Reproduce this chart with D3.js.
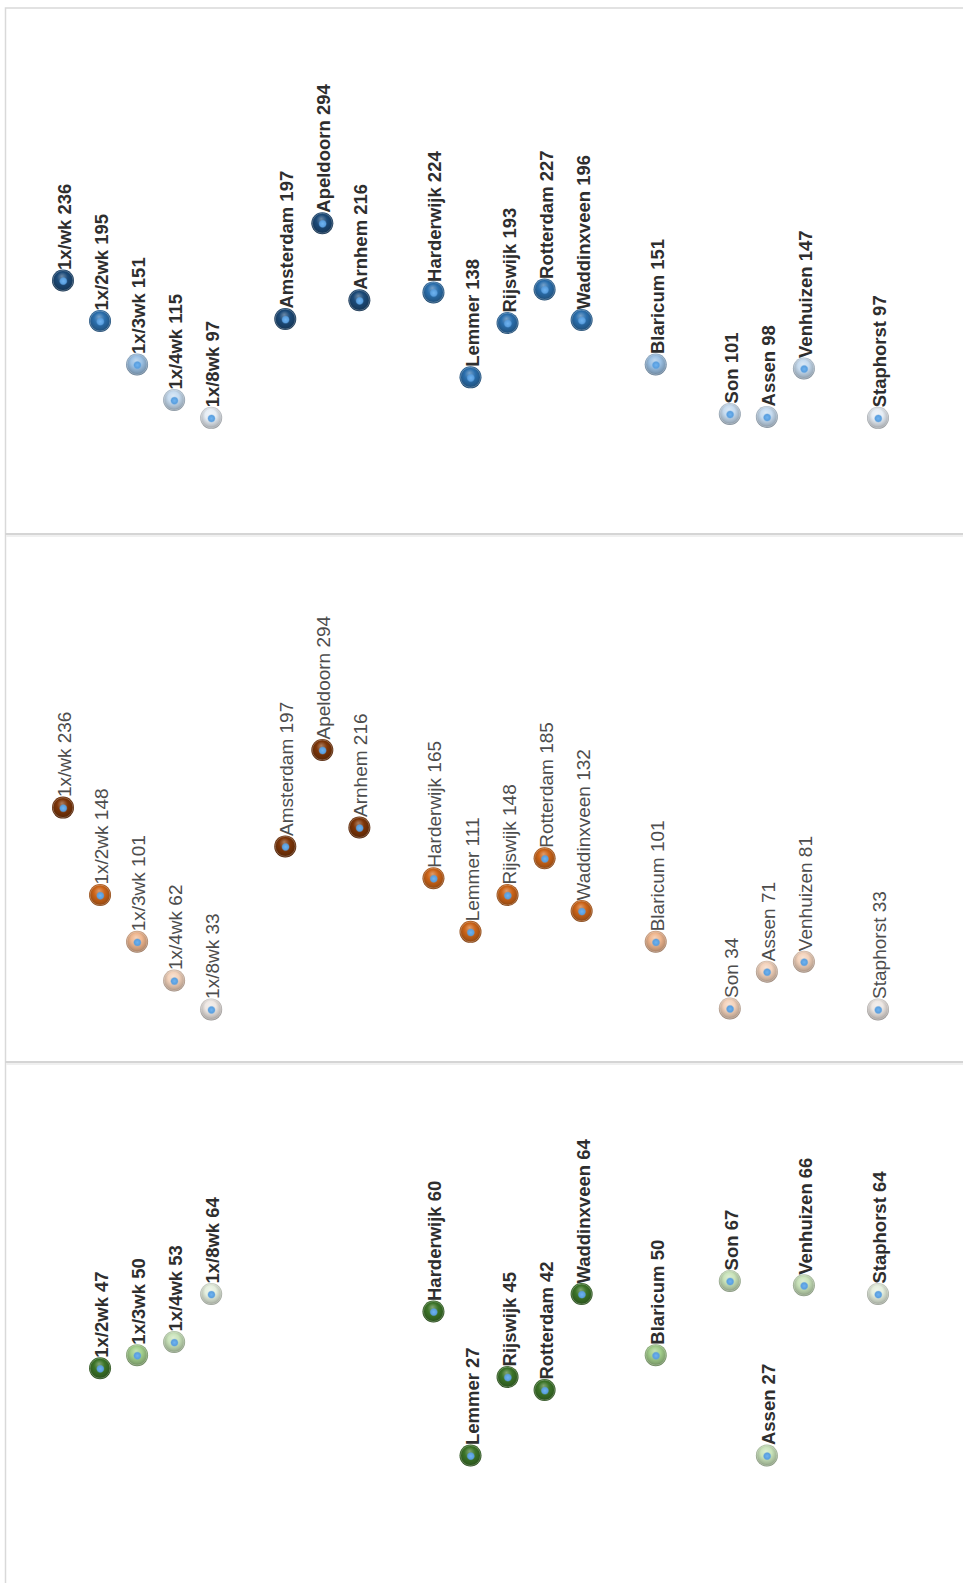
<!DOCTYPE html>
<html>
<head>
<meta charset="utf-8">
<script src="https://cdn.jsdelivr.net/npm/d3@7"></script>
<style>
  html, body { margin: 0; padding: 0; background: #ffffff; }
  svg { display: block; }
</style>
</head>
<body>
<div id="chart"></div>
<script>
// Route categories: five frequency totals followed by the locations, grouped by frequency.
const categories = [
  "1x/wk", "1x/2wk", "1x/3wk", "1x/4wk", "1x/8wk",
  "Amsterdam", "Apeldoorn", "Arnhem",
  "Harderwijk", "Lemmer", "Rijswijk", "Rotterdam", "Waddinxveen",
  "Blaricum",
  "Son", "Assen", "Venhuizen",
  "Staphorst"
];
// Frequency group of each category (1 = weekly ... 5 = every eight weeks).
const frequencyGroup = [1, 2, 3, 4, 5, 1, 1, 1, 2, 2, 2, 2, 2, 3, 4, 4, 4, 5];

// Values per panel (null = no point).
const blueValues   = [236, 195, 151, 115, 97, 197, 294, 216, 224, 138, 193, 227, 196, 151, 101, 98, 147, 97];
const orangeValues = [236, 148, 101, 62, 33, 197, 294, 216, 165, 111, 148, 185, 132, 101, 34, 71, 81, 33];
const greenValues  = [null, 47, 50, 53, 64, null, null, null, 60, 27, 45, 42, 64, 50, 67, 27, 66, 64];

// Sphere colours per frequency group, one palette per panel.
const bluePalette   = ["#1c4a78", "#2b6fad", "#9cc1e4", "#c6dbef", "#e6edf4"];
const orangePalette = ["#7d3508", "#cc6418", "#efb68e", "#f3d2bb", "#ede7e3"];
const greenPalette  = ["#2f5e1e", "#3c7428", "#a3cf8c", "#c9e3ba", "#e5efde"];

const W = 963, H = 1583;
const R = 11;

const svg = d3.select("#chart").append("svg")
  .attr("width", W).attr("height", H);

const defs = svg.append("defs");

// Slot domain: categories with spacer slots between the frequency groups.
const slots = [];
categories.forEach((c, i) => {
  if (i >= 5 && (i === 5 || frequencyGroup[i] !== frequencyGroup[i - 1])) slots.push("gap-" + i);
  slots.push(c);
});
const x = d3.scalePoint().domain(slots).range([63, 878]);

const panels = [
  { key: "blue",   values: blueValues,   palette: bluePalette,   top: 8,    domain: [0, 500], range: [505.7, 11.7], weight: "bold",   size: 18.5, text: "#2e2e2e" },
  { key: "orange", values: orangeValues, palette: orangePalette, top: 533,  domain: [0, 500], range: [509.2, 12.2], weight: "normal", size: 19,   text: "#4d4d4d" },
  { key: "green",  values: greenValues,  palette: greenPalette,  top: 1061, domain: [0, 100], range: [512.4, 75.9], weight: "bold",   size: 18.5, text: "#2e2e2e" }
];

function shade(c, k) { return d3.color(c).darker(k).formatHex(); }
function tint(c, k)  { return d3.interpolateRgb(c, "#ffffff")(k); }

// Glossy sphere gradients
panels.forEach(p => {
  p.palette.forEach((c, gi) => {
    const g = defs.append("radialGradient")
      .attr("id", `sph-${p.key}-${gi}`)
      .attr("cx", "50%").attr("cy", "45%").attr("r", "55%")
      .attr("fx", "45%").attr("fy", "30%");
    g.append("stop").attr("offset", "0%").attr("stop-color", tint(c, 0.35));
    g.append("stop").attr("offset", "45%").attr("stop-color", c);
    g.append("stop").attr("offset", "80%").attr("stop-color", shade(c, 0.6));
    g.append("stop").attr("offset", "100%").attr("stop-color", shade(c, 1.3));
  });
});
const spot = defs.append("radialGradient").attr("id", "spot");
spot.append("stop").attr("offset", "0%").attr("stop-color", "#6fb3f0");
spot.append("stop").attr("offset", "70%").attr("stop-color", "#5a9fdf");
spot.append("stop").attr("offset", "100%").attr("stop-color", "#5a9fdf").attr("stop-opacity", 0.2);

// Frame and panel dividers
svg.append("rect")
  .attr("x", 5.5).attr("y", 8).attr("width", W + 10).attr("height", H + 10)
  .attr("fill", "none").attr("stroke", "#d9d9d9").attr("stroke-width", 1.5);
[534, 1062].forEach(yy => {
  svg.append("line")
    .attr("x1", 5).attr("x2", W).attr("y1", yy).attr("y2", yy)
    .attr("stroke", "#d5d5d5").attr("stroke-width", 2);
  svg.append("line")
    .attr("x1", 6).attr("x2", W).attr("y1", yy + 2).attr("y2", yy + 2)
    .attr("stroke", "#f0f0f0").attr("stroke-width", 2);
});

panels.forEach(p => {
  const y = d3.scaleLinear().domain(p.domain).range(p.range);
  const g = svg.append("g").attr("transform", `translate(0,${p.top})`);

  const data = categories.map((c, i) => ({ name: c, value: p.values[i], group: frequencyGroup[i] }))
    .filter(d => d.value != null);

  const pts = g.selectAll("g.pt").data(data).join("g")
    .attr("class", "pt")
    .attr("transform", d => `translate(${x(d.name)},${y(d.value)})`);

  pts.append("circle")
    .attr("r", R)
    .attr("fill", d => `url(#sph-${p.key}-${d.group - 1})`);
  pts.append("circle")
    .attr("r", R - 1)
    .attr("fill", "none")
    .attr("stroke", "rgba(255,255,255,0.25)")
    .attr("stroke-width", 1);
  pts.append("circle")
    .attr("cx", 0.3).attr("cy", 0.6)
    .attr("r", 4.2)
    .attr("fill", "url(#spot)");

  pts.append("text")
    .attr("transform", `translate(0,${-R + 0.5}) rotate(-90)`)
    .attr("x", 0).attr("y", 8)
    .attr("font-family", "Liberation Sans, Arial, sans-serif")
    .attr("font-size", p.size)
    .attr("font-weight", p.weight)
    .attr("fill", p.text)
    .text(d => `${d.name} ${d.value}`);
});
</script>
</body>
</html>
